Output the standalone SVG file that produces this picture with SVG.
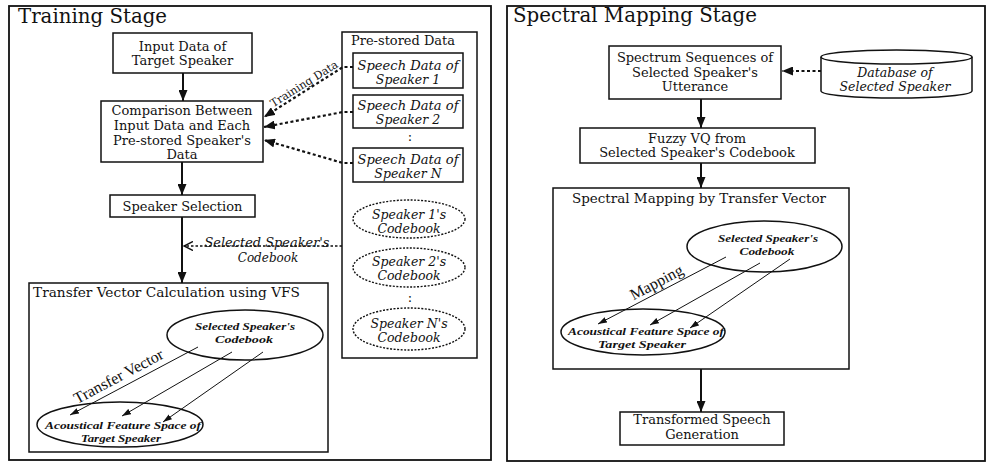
<svg xmlns="http://www.w3.org/2000/svg" width="987" height="462" viewBox="0 0 987 462">
<style>
.panel{fill:none;stroke:#111;stroke-width:1.8}
.box{fill:#fff;stroke:#111;stroke-width:1.5}
.ell{fill:none;stroke:#111;stroke-width:1.5}
.dell{fill:none;stroke:#111;stroke-width:1.4;stroke-dasharray:2 1.5}
.t{font-family:"DejaVu Serif",serif;font-size:13px;fill:#111;text-anchor:middle}
.ts{font-family:"DejaVu Serif",serif;font-size:13px;fill:#111}
.ti{font-family:"DejaVu Serif",serif;font-size:12.5px;font-style:italic;fill:#111;text-anchor:middle}
.tb{font-family:"Liberation Serif",serif;font-size:11px;font-weight:bold;font-style:italic;fill:#111;text-anchor:middle}
.title{font-family:"DejaVu Serif",serif;font-size:20px;fill:#111}
.lab{font-family:"Liberation Serif",serif;font-size:16px;fill:#111;text-anchor:middle}
.flow{stroke:#111;stroke-width:2;fill:none;marker-end:url(#ah)}
.dash{stroke:#111;stroke-width:2.2;stroke-dasharray:3 2.5;fill:none;marker-end:url(#ah)}
.dopen{stroke:#111;stroke-width:1.6;stroke-dasharray:2.5 2;fill:none;marker-end:url(#oah)}
.thin{stroke:#111;stroke-width:1;fill:none;marker-end:url(#sah)}
</style>
<defs>
<marker id="ah" markerUnits="userSpaceOnUse" markerWidth="11" markerHeight="9" refX="11" refY="4.5" orient="auto"><path d="M0,0 L11,4.5 L0,9 z" fill="#111"/></marker>
<marker id="oah" markerUnits="userSpaceOnUse" markerWidth="10" markerHeight="10" refX="9" refY="5" orient="auto"><path d="M0,0.5 L9,5 L0,9.5" fill="none" stroke="#111" stroke-width="1.5"/></marker>
<marker id="sah" markerUnits="userSpaceOnUse" markerWidth="9" markerHeight="6" refX="9" refY="3" orient="auto"><path d="M0,0 L9,3 L0,6 z" fill="#111"/></marker>
</defs>
<rect width="987" height="462" fill="#fff"/>

<g id="training-stage">
<rect class="panel" x="9" y="6" width="482" height="454"/>
<text class="title" x="18" y="23" textLength="149" lengthAdjust="spacingAndGlyphs">Training Stage</text>
</g>
<g id="spectral-stage">
<rect class="panel" x="507" y="6" width="478" height="455"/>
<text class="title" x="513" y="22" textLength="244" lengthAdjust="spacingAndGlyphs">Spectral Mapping Stage</text>
</g>

<g id="input-data">
<rect class="box" x="113" y="33" width="139" height="40"/>
<text class="t" x="182.5" y="50.5">Input Data of</text>
<text class="t" x="182.5" y="64.5">Target Speaker</text>
</g>
<g id="comparison">
<rect class="box" x="101" y="101" width="162" height="61"/>
<text class="t" x="182" y="115">Comparison Between</text>
<text class="t" x="182" y="130">Input Data and Each</text>
<text class="t" x="182" y="144.5">Pre-stored Speaker's</text>
<text class="t" x="182" y="158.5">Data</text>
</g>
<g id="speaker-selection">
<rect class="box" x="110" y="195" width="145" height="22"/>
<text class="t" x="182.5" y="211">Speaker Selection</text>
</g>
<g id="transfer-calc">
<rect class="box" x="29" y="283" width="299" height="169"/>
<text class="ts" x="33" y="297" textLength="267" lengthAdjust="spacingAndGlyphs">Transfer Vector Calculation using VFS</text>
</g>
<g id="sel-codebook-left">
<ellipse class="ell" cx="245" cy="335" rx="78" ry="25"/>
<text class="tb" x="245" y="330" textLength="100" lengthAdjust="spacingAndGlyphs">Selected Speaker's</text>
<text class="tb" x="244" y="343" textLength="58" lengthAdjust="spacingAndGlyphs">Codebook</text>
</g>
<g id="acoustic-left">
<ellipse class="ell" cx="120" cy="424.5" rx="83" ry="22.5"/>
<text class="tb" x="123" y="429" textLength="156" lengthAdjust="spacingAndGlyphs">Acoustical Feature Space of</text>
<text class="tb" x="121" y="442" textLength="80" lengthAdjust="spacingAndGlyphs">Target Speaker</text>
</g>

<g id="prestored">
<rect class="box" x="342" y="32" width="135" height="326"/>
<text class="ts" x="351" y="45" textLength="104" lengthAdjust="spacingAndGlyphs">Pre-stored Data</text>
</g>
<g id="speech1">
<rect class="box" x="353" y="53" width="110" height="35"/>
<text class="ti" x="408" y="69.5" textLength="101" lengthAdjust="spacingAndGlyphs">Speech Data of</text>
<text class="ti" x="408" y="83.5">Speaker 1</text>
</g>
<g id="speech2">
<rect class="box" x="353" y="95" width="110" height="33"/>
<text class="ti" x="408" y="110" textLength="101" lengthAdjust="spacingAndGlyphs">Speech Data of</text>
<text class="ti" x="408" y="124">Speaker 2</text>
</g>
<text class="t" x="410" y="141">:</text>
<g id="speechN">
<rect class="box" x="353" y="148" width="110" height="34"/>
<text class="ti" x="408" y="163.5" textLength="101" lengthAdjust="spacingAndGlyphs">Speech Data of</text>
<text class="ti" x="408" y="177.5">Speaker N</text>
</g>
<g id="codebook1">
<ellipse class="dell" cx="409" cy="219" rx="56" ry="19"/>
<text class="ti" x="409" y="219">Speaker 1's</text>
<text class="ti" x="409" y="233">Codebook</text>
</g>
<g id="codebook2">
<ellipse class="dell" cx="409" cy="267.5" rx="56" ry="19.5"/>
<text class="ti" x="409" y="266">Speaker 2's</text>
<text class="ti" x="409" y="280">Codebook</text>
</g>
<text class="t" x="410" y="302">:</text>
<g id="codebookN">
<ellipse class="dell" cx="409" cy="329" rx="56" ry="21"/>
<text class="ti" x="409" y="327.5">Speaker N's</text>
<text class="ti" x="409" y="341.5">Codebook</text>
</g>

<g id="spectrum-seq">
<rect class="box" x="609" y="46" width="172" height="53"/>
<text class="t" x="695" y="62">Spectrum Sequences of</text>
<text class="t" x="695" y="76.5">Selected Speaker's</text>
<text class="t" x="695" y="91">Utterance</text>
</g>
<g id="database">
<path class="ell" d="M821,57 L821,91 A75.5,7 0 0 0 972,91 L972,57" fill="#fff"/>
<ellipse class="ell" cx="896.5" cy="57" rx="75.5" ry="7"/>
<text class="ti" x="895" y="77">Database of</text>
<text class="ti" x="895" y="91">Selected Speaker</text>
</g>
<g id="fuzzy-vq">
<rect class="box" x="580" y="128" width="235" height="35"/>
<text class="t" x="697" y="142.5">Fuzzy VQ  from</text>
<text class="t" x="697" y="157">Selected Speaker's Codebook</text>
</g>
<g id="spectral-mapping">
<rect class="box" x="553" y="188" width="296" height="181"/>
<text class="ts" x="572" y="203" textLength="254" lengthAdjust="spacingAndGlyphs">Spectral Mapping by Transfer Vector</text>
</g>
<g id="sel-codebook-right">
<ellipse class="ell" cx="764.5" cy="246.5" rx="77.5" ry="25.5"/>
<text class="tb" x="768" y="242" textLength="100" lengthAdjust="spacingAndGlyphs">Selected Speaker's</text>
<text class="tb" x="767" y="255" textLength="55" lengthAdjust="spacingAndGlyphs">Codebook</text>
</g>
<g id="acoustic-right">
<ellipse class="ell" cx="643" cy="332" rx="82" ry="23"/>
<text class="tb" x="646" y="335" textLength="156" lengthAdjust="spacingAndGlyphs">Acoustical Feature Space of</text>
<text class="tb" x="642" y="348" textLength="88" lengthAdjust="spacingAndGlyphs">Target Speaker</text>
</g>
<g id="transformed">
<rect class="box" x="620" y="412" width="164" height="33"/>
<text class="t" x="702" y="424">Transformed Speech</text>
<text class="t" x="702" y="438.5">Generation</text>
</g>

<g id="connectors">
<line class="flow" x1="183" y1="73" x2="183" y2="101"/>
<line class="flow" x1="182" y1="162" x2="182" y2="195"/>
<line class="flow" x1="182" y1="217" x2="182" y2="283"/>
<path class="dash" d="M353,67 L343,67 L264,117"/>
<path class="dash" d="M353,112 L343,112 L264,127"/>
<path class="dash" d="M353,163 L343,163 L264,140"/>
<path class="dopen" d="M342,246 L184,246"/>
<line class="thin" x1="198" y1="347" x2="70" y2="415"/>
<line class="thin" x1="232" y1="352" x2="122" y2="416"/>
<line class="thin" x1="263" y1="352" x2="163" y2="422"/>
<line class="flow" x1="701" y1="99" x2="701" y2="128"/>
<line class="flow" x1="701" y1="163" x2="701" y2="188"/>
<line class="flow" x1="701" y1="369" x2="701" y2="412"/>
<line class="dash" x1="821" y1="71" x2="782" y2="71"/>
<line class="thin" x1="726" y1="257" x2="598" y2="324"/>
<line class="thin" x1="760" y1="263" x2="650" y2="325"/>
<line class="thin" x1="790" y1="259" x2="690" y2="328"/>
<text class="ti" style="font-size:12px" x="267" y="247" textLength="125" lengthAdjust="spacingAndGlyphs">Selected Speaker's</text>
<text class="ti" style="font-size:12px" x="268" y="262">Codebook</text>
<text class="lab" transform="translate(121,381) rotate(-28)">Transfer Vector</text>
<text class="t" style="font-size:11px" transform="translate(306,87) rotate(-32)">Training Data</text>
<text class="lab" transform="translate(659,287) rotate(-28)">Mapping</text>
</g>
</svg>
